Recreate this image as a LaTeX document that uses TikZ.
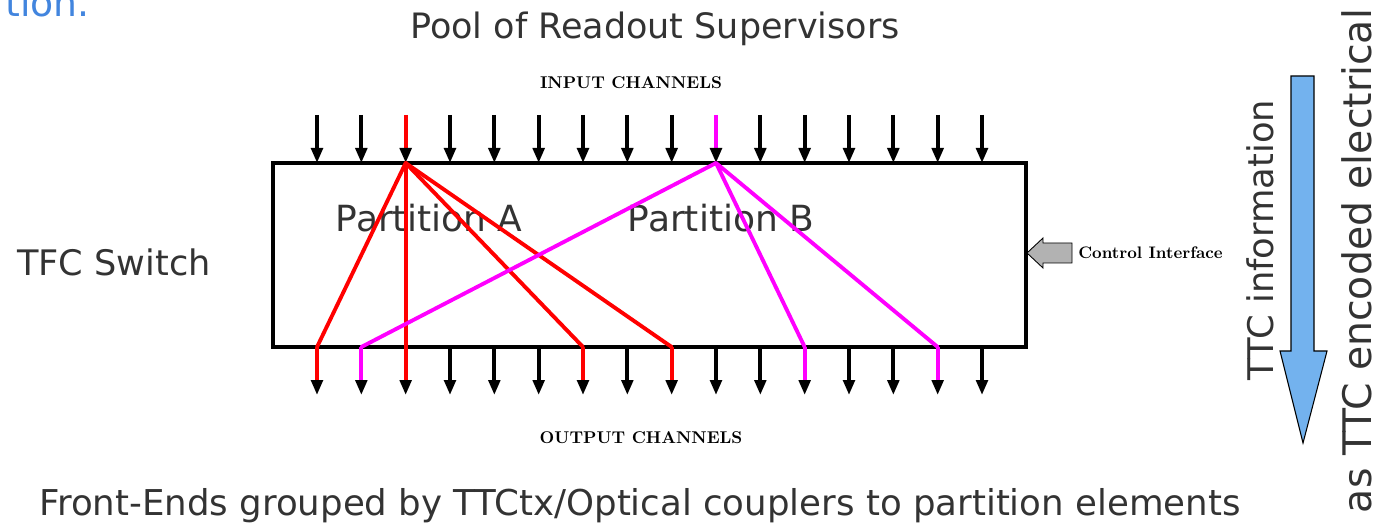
\documentclass[tikz,border=0pt]{standalone}
\usepackage{fontspec}
\newfontfamily\comic{DejaVu Sans}
\usepackage{xcolor}
\usetikzlibrary{arrows.meta}
\definecolor{ttcblue}{RGB}{115,178,238}
\definecolor{slideblue}{RGB}{66,133,222}
\definecolor{inkgray}{RGB}{51,51,51}
\definecolor{partred}{RGB}{255,0,0}
\definecolor{partpink}{RGB}{255,0,255}

\begin{document}
\begin{tikzpicture}[x=0.02cm,y=-0.02cm]
			\tikzstyle{chan}=[line width=2.1pt,-{Triangle[length=0.3cm,width=0.23cm,color=black]}]
			\tikzstyle{part}=[line width=2.2pt,line cap=round]
			\tikzstyle{big}=[text=inkgray,inner sep=0pt,anchor=base]
			\tikzstyle{caps}=[font=\fontsize{9.7}{11}\selectfont\bfseries,inner sep=0pt,anchor=base]

			\useasboundingbox (0,0) rectangle (1388,526);

			\node (sw) [draw,line width=2.3pt,minimum width=15.06cm,minimum height=3.68cm,inner sep=0pt] at (649.5,255) {};

			\foreach \i in {1,...,16} {
				\coordinate (in\i) at ({317+(\i-1)*44.333},115);
				\coordinate (t\i) at ({317+(\i-1)*44.333},163);
				\coordinate (b\i) at ({317+(\i-1)*44.333},347);
				\coordinate (out\i) at ({317+(\i-1)*44.333},395);
			}

			\node (pool) [big,font=\comic\fontsize{19.9}{23}\selectfont] at (655,39) {Pool of Readout Supervisors};
			\node (inch) [caps] at (631,89) {INPUT CHANNELS};
			\node (outch) [caps] at (641,443) {OUTPUT CHANNELS};
			\node (pa) [big,font=\comic\fontsize{20.5}{24}\selectfont] at (429,232) {Partition A};
			\node (pb) [big,font=\comic\fontsize{20.5}{24}\selectfont] at (721,232) {Partition B};
			\node (tfc) [big,font=\comic\fontsize{20}{24}\selectfont] at (114,276) {TFC Switch};
			\node (ctrl) [caps,anchor=base west,font=\fontsize{9.5}{11}\selectfont\bfseries] at (1078,259) {Control Interface};
			\node (fe) [big,font=\comic\fontsize{20.25}{24}\selectfont] at (640,515) {Front-Ends grouped by TTCtx/Optical couplers to partition elements};
			\node (ttc) [big,anchor=center,rotate=90,font=\comic\fontsize{20.1}{24}\selectfont] at (1260,240) {TTC information};
			\node (elec) [big,anchor=center,rotate=90,font=\comic\fontsize{22.4}{26}\selectfont] at (1357,261) {as TTC encoded electrical};
			\node (tion) [inner sep=0pt,anchor=base west,text=slideblue,font=\comic\fontsize{21.5}{26}\selectfont] at (5,17) {tion.};

			% input channels
			\foreach \i/\c in {1/black,2/black,3/partred,4/black,5/black,6/black,7/black,8/black,
				9/black,10/partpink,11/black,12/black,13/black,14/black,15/black,16/black}
				\draw[chan,\c] (in\i) -- (t\i);

			% output channels
			\foreach \i/\c in {1/partred,2/partpink,3/partred,4/black,5/black,6/black,7/partred,8/black,
				9/partred,10/black,11/black,12/partpink,13/black,14/black,15/partpink,16/black}
				\draw[chan,\c] (b\i) -- (out\i);

			% partitions
			\path[part,partred] (t3) edge (b1) edge (b3) edge (b7) edge (b9);
			\path[part,partpink] (t10) edge (b2) edge (b12) edge (b15);

			% control interface and TTC arrows
			\draw[fill=gray!60,line width=0.5pt] (1027,253) -- (1043,238) -- (1043,243) -- (1072,243)
				-- (1072,263) -- (1043,263) -- (1043,268) -- cycle;
			\draw[fill=ttcblue,line width=0.6pt] (1291,76) -- (1314,76) -- (1314,351) -- (1327,351)
				-- (1303,443) -- (1280,351) -- (1291,351) -- cycle;

		\end{tikzpicture}
\end{document}
